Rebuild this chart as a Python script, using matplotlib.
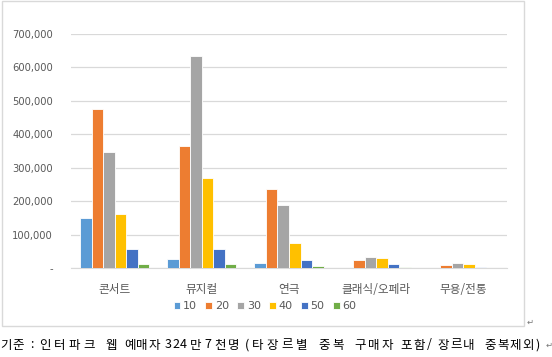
import matplotlib
matplotlib.use('Agg')
import matplotlib.pyplot as plt
import matplotlib.ticker as ticker
from matplotlib.patches import Rectangle
import numpy as np

plt.rcParams['font.family'] = ['DejaVu Sans', 'Noto Sans CJK KR']

genres = ['콘서트', '뮤지컬', '연극', '클래식/오페라', '무용/전통']
ages = ['10', '20', '30', '40', '50', '60']
age10 = [150000, 27000, 15000, 1000, 500]
age20 = [476000, 365000, 236000, 24000, 9000]
age30 = [347000, 635000, 189000, 33000, 16000]
age40 = [162000, 269000, 75000, 30000, 12000]
age50 = [57000, 57000, 25000, 12000, 4000]
age60 = [12000, 12000, 6000, 3000, 1000]
series = [age10, age20, age30, age40, age50, age60]
colors = ['#5B9BD5', '#ED7D31', '#A5A5A5', '#FFC000', '#4472C4', '#70AD47']

# footnote words with left/right pixel extent (justified, letter-spaced text)
note_words = ['기준', ':', '인터파크', '웹', '예매자', '324', '만', '7', '천명', '(타장르별',
              '중복', '구매자', '포함/', '장르내', '중복제외)']
note_x0 = [0, 30, 39, 105, 124, 165, 190, 204, 214, 245, 318, 354, 400, 437, 484]
note_x1 = [25, 33, 98, 118, 161, 187, 202, 209, 241, 310, 346, 395, 433, 476, 542]

fig = plt.figure(figsize=(5.52, 3.57), dpi=100)
ax = fig.add_axes([0.1286, 0.2493, 0.7899, 0.6555])

x = np.arange(len(genres))
w = 0.132
for i, (vals, c) in enumerate(zip(series, colors)):
    ax.bar(x + (i - 2.5) * w, vals, w, color=c, edgecolor='white', linewidth=0.6,
           label=ages[i], zorder=3)

ax.set_xlim(-0.5, len(genres) - 0.5)
ax.set_ylim(0, 700000)
ax.set_yticks(range(0, 700001, 100000))
ax.yaxis.set_major_formatter(ticker.FuncFormatter(
    lambda v, pos: '-' if v == 0 else '{:,.0f}'.format(v)))
ax.grid(axis='y', color='#D9D9D9', linewidth=0.9, zorder=0)
for s in ['top', 'right', 'left']:
    ax.spines[s].set_visible(False)
ax.spines['bottom'].set_color('#D9D9D9')
ax.tick_params(axis='both', length=0, colors='#595959', labelsize=7.2)
ax.tick_params(axis='y', pad=13)
ax.tick_params(axis='x', pad=11)
ax.set_xticks(x)
ax.set_xticklabels(genres, fontsize=8.4, family=['Noto Sans CJK KR', 'DejaVu Sans'])

fig.legend(loc='center', bbox_to_anchor=(265 / 552, 1 - 306 / 357), ncol=6, frameon=False,
           fontsize=8, handlelength=0.6, handleheight=0.6, handletextpad=0.25,
           columnspacing=0.75, labelcolor='#595959')

fig.patches.append(Rectangle((2 / 552, 1 - 326 / 357), 522 / 552, 325 / 357,
                             transform=fig.transFigure, fill=False,
                             edgecolor='#D9D9D9', linewidth=1))
fig.text(527 / 552, 1 - 322 / 357, '↵', fontsize=6, color='#777777', va='center')

# spread each word's characters over its width (hangul = 1 cell, ascii = half)
for word, x0, x1 in zip(note_words, note_x0, note_x1):
    wts = [1.0 if ord(ch) > 0x1000 else 0.5 for ch in word]
    pitch = (x1 - x0) / sum(wts)
    pos = x0
    for ch, wt in zip(word, wts):
        fig.text(pos / 552, 1 - 345 / 357, ch, fontsize=9, color='black',
                 va='center', ha='left', family=['Noto Sans CJK KR', 'DejaVu Sans'])
        pos += wt * pitch
fig.text(546 / 552, 1 - 345 / 357, '↵', fontsize=6, color='#777777', va='center')

fig.savefig('out.png', dpi=100)
